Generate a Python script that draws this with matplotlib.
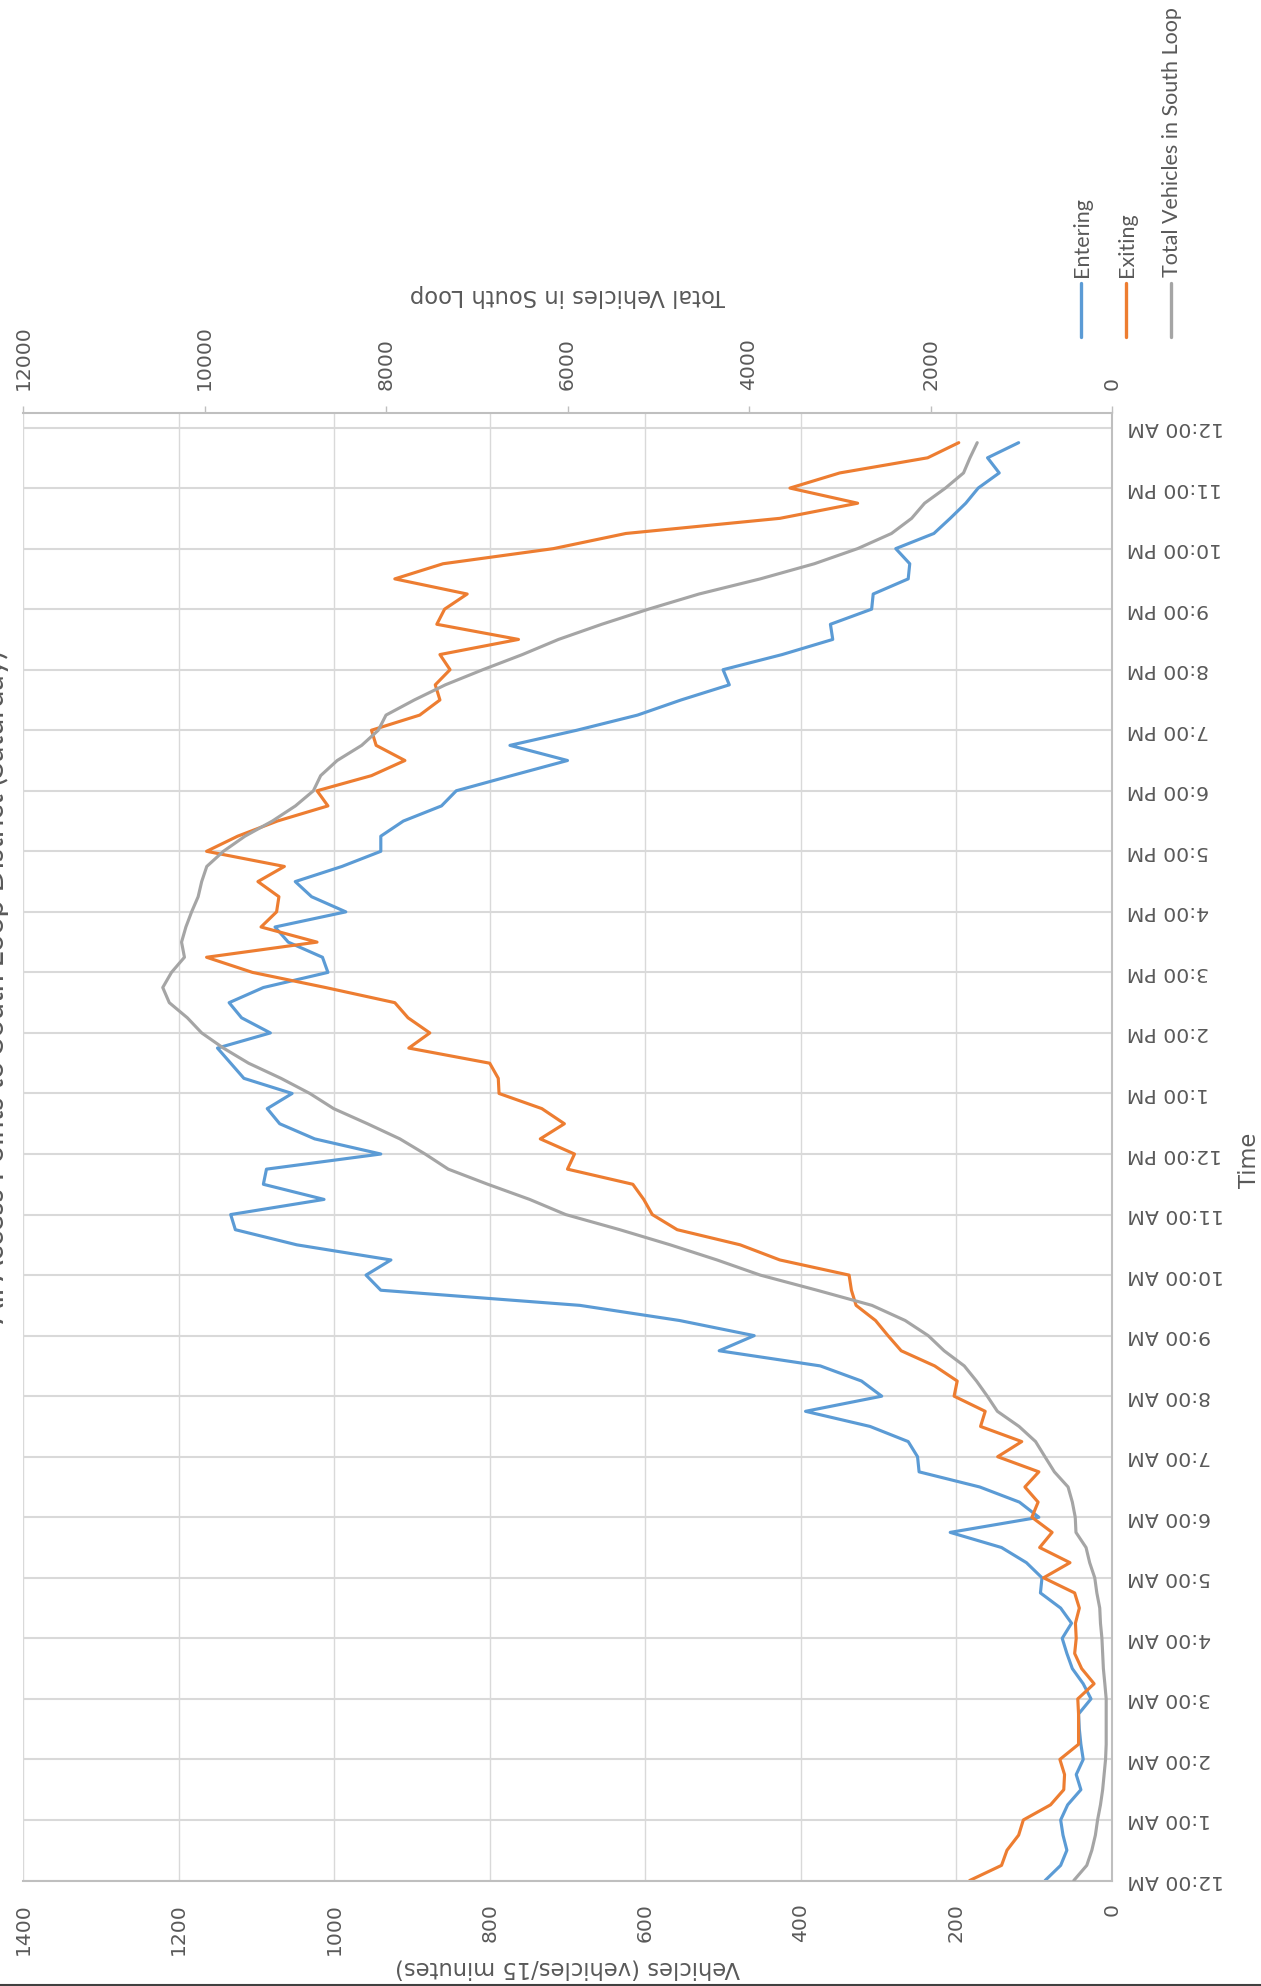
import numpy as np
import matplotlib
matplotlib.use("Agg")
import matplotlib.pyplot as plt
from matplotlib.lines import Line2D

# ---- data: 15-minute counts, Saturday, all access points ----
quarter = list(range(96))            # 15-minute slots from 12:00 AM
hours = [q / 4 for q in quarter]     # slot start in hours

entering = [86, 66, 58, 63, 66, 57, 40, 46, 37, 40, 42, 43, 27, 37, 51, 58,
            64, 52, 66, 92, 90, 110, 142, 208, 94, 119, 170, 248, 250, 262, 311, 394,
            296, 322, 375, 505, 460, 556, 684, 940, 959, 927, 1048, 1127, 1133, 1013, 1091, 1087,
            940, 1025, 1070, 1086, 1054, 1116, 1133, 1150, 1082, 1119, 1135, 1091, 1008, 1015,
            1059, 1076, 985, 1029, 1050, 990, 940, 940, 911, 862, 843, 772, 700, 774,
            688, 610, 554, 492, 500, 424, 359, 362, 309, 307, 262, 260, 278, 229, 208, 188,
            172, 145, 160, 120]

exiting = [183, 142, 135, 120, 114, 79, 62, 61, 67, 43, 43, 43, 44, 23, 39, 48,
           46, 47, 42, 48, 88, 54, 93, 77, 103, 95, 112, 94, 147, 116, 169, 163,
           203, 199, 228, 271, 288, 304, 329, 335, 338, 427, 478, 559, 591, 602, 616, 700,
           691, 735, 704, 733, 788, 789, 800, 904, 877, 905, 922, 1011, 1105, 1164,
           1022, 1094, 1074, 1071, 1098, 1064, 1164, 1124, 1073, 1008, 1022, 952, 909, 946,
           952, 890, 864, 870, 851, 864, 763, 868, 858, 829, 922, 860, 718, 625, 427, 327,
           414, 350, 237, 197]

total = [421, 278, 222, 183, 159, 127, 103, 87, 71, 64, 64, 64, 64, 79, 95, 103,
         111, 127, 135, 167, 190, 246, 286, 397, 405, 437, 484, 635, 739, 842, 1024, 1263,
         1374, 1493, 1628, 1850, 2025, 2279, 2645, 3250, 3876, 4352, 4868, 5424, 6020, 6417, 6878, 7314,
         7569, 7847, 8204, 8577, 8839, 9157, 9514, 9792, 10031, 10189, 10388, 10460, 10364, 10221,
         10253, 10205, 10142, 10070, 10031, 9975, 9792, 9554, 9252, 8998, 8800, 8720, 8538, 8268,
         8085, 8000, 7688, 7346, 6933, 6497, 6099, 5623, 5107, 4551, 3876, 3280, 2803, 2430, 2208, 2065,
         1835, 1636, 1565, 1485]

hour_labels = (["12:00 AM"] + [f"{h}:00 AM" for h in range(1, 12)] +
               ["12:00 PM"] + [f"{h}:00 PM" for h in range(1, 12)] + ["12:00 AM"])
vehicle_ticks = [0, 200, 400, 600, 800, 1000, 1200, 1400]
total_ticks = [0, 2000, 4000, 6000, 8000, 10000, 12000]

series_names = ["Entering", "Exiting", "Total Vehicles in South Loop"]
series_colors = ["#5B9BD5", "#ED7D31", "#A5A5A5"]

# ---- figure in pixel units ----
W, H, DPI = 1261, 1986, 100
fig = plt.figure(figsize=(W / DPI, H / DPI), dpi=DPI)
fig.patch.set_facecolor("white")


def fx(x):
    return x / W


def fy(y):
    return 1 - y / H


TXT = "#595959"
GRID = "#d9d9d9"
AXIS = "#bfbfbf"
TICK_FS = 14.7
TITLE_FS = 16.3

left, right, top, bottom = 23, 1112, 413, 1880.5
ax = fig.add_axes([fx(left), fy(bottom), (right - left) / W, (bottom - top) / H])
ax.set_xlim(1400, 0)
ax.set_ylim(0, 24.24)

ax.set_xticks(vehicle_ticks)
ax.set_xticklabels([str(v) for v in vehicle_ticks], rotation=90,
                   rotation_mode="anchor", ha="right", va="center")
ax.tick_params(axis="x", length=0, pad=16.2, labelsize=TICK_FS, labelcolor=TXT)

ax.yaxis.tick_right()
ax.set_yticks(range(25))
ax.set_yticklabels(hour_labels, rotation=180, rotation_mode="anchor",
                   ha="right", va="center")
ax.tick_params(axis="y", length=0, pad=10.8, labelsize=TICK_FS, labelcolor=TXT)

ax.grid(axis="x", color=GRID, lw=1.0, zorder=0)
ax.grid(axis="y", color=GRID, lw=1.5, zorder=0)
ax.set_axisbelow(True)

for s in ("left", "top"):
    ax.spines[s].set_visible(False)
for s in ("right", "bottom"):
    ax.spines[s].set_color(AXIS)
    ax.spines[s].set_linewidth(1.5)

line_kw = dict(lw=2.25, solid_joinstyle="round", solid_capstyle="round")
ax.plot(entering, hours, color=series_colors[0], **line_kw)
ax.plot(exiting, hours, color=series_colors[1], **line_kw)

# secondary scale for the running total
ax2 = ax.twiny()
ax2.set_xlim(12000, 0)
ax2.set_xticks(total_ticks)
ax2.set_xticklabels([str(v) for v in total_ticks], rotation=90,
                    rotation_mode="anchor", ha="left", va="center")
ax2.tick_params(axis="x", length=4.8, width=1.0, color=AXIS, pad=11.7,
                labelsize=TICK_FS, labelcolor=TXT)
for s in ("left", "right", "bottom"):
    ax2.spines[s].set_visible(False)
ax2.spines["top"].set_color(AXIS)
ax2.spines["top"].set_linewidth(1.5)
ax2.plot(total, hours, color=series_colors[2], **line_kw)

# axis titles
fig.text(fx(567), fy(1968), "Vehicles (vehicles/15 minutes)", rotation=180,
         ha="center", va="center", fontsize=TITLE_FS, color=TXT)
fig.text(fx(567), fy(296), "Total Vehicles in South Loop", rotation=180,
         ha="center", va="center", fontsize=TITLE_FS, color=TXT)
fig.text(fx(1250), fy(1160), "Time", rotation=90,
         ha="center", va="center", fontsize=TITLE_FS, color=TXT)

# chart title along the left edge
fig.text(fx(4), fy(987), "All Access Points to South Loop District (Saturday)",
         rotation=90, rotation_mode="anchor", ha="center", va="baseline",
         fontsize=22, color=TXT, family="Lato")

# legend
for x, name, color in zip([1081, 1126, 1171], series_names, series_colors):
    fig.add_artist(Line2D([fx(x), fx(x)], [fy(337), fy(283)],
                          transform=fig.transFigure, color=color, lw=2.4,
                          solid_capstyle="round"))
    fig.text(fx(x + 1), fy(277), name, rotation=90, rotation_mode="anchor",
             ha="left", va="center", fontsize=15.5, family="Lato", color=TXT)

# frame edge along the bottom
fig.add_artist(Line2D([0, 1], [fy(1985), fy(1985)], transform=fig.transFigure,
                      color="#404040", lw=1.5))

fig.savefig("out.png", dpi=DPI)
